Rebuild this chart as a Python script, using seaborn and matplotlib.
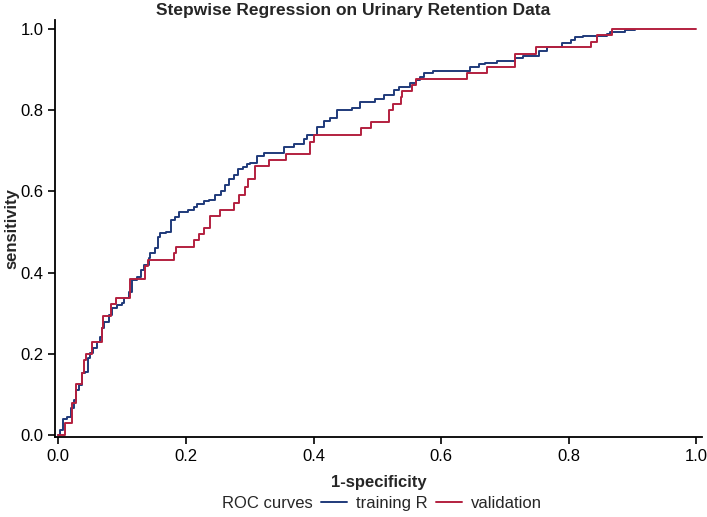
import numpy as np
import pandas as pd
import matplotlib
matplotlib.use("Agg")
import matplotlib.pyplot as plt
import seaborn as sns
from matplotlib.lines import Line2D

# -------------------------------
# ROC curve points (1-specificity, sensitivity)
# -------------------------------
train_fpr = [0.0, 0.002, 0.003, 0.007, 0.014, 0.020, 0.024, 0.028, 0.032, 0.037, 0.042,
             0.046, 0.050, 0.055, 0.061, 0.066, 0.068, 0.072, 0.079, 0.084, 0.092,
             0.100, 0.103, 0.110, 0.115, 0.124, 0.129, 0.135, 0.142, 0.144, 0.152,
             0.157, 0.160, 0.168, 0.176, 0.183, 0.189, 0.204, 0.212, 0.217, 0.228,
             0.236, 0.245, 0.255, 0.262, 0.268, 0.275, 0.282, 0.290, 0.296, 0.301,
             0.311, 0.322, 0.353, 0.369, 0.385, 0.390, 0.405, 0.416, 0.426, 0.437,
             0.460, 0.473, 0.497, 0.510, 0.526, 0.534, 0.552, 0.560, 0.567, 0.573,
             0.588, 0.646, 0.659, 0.669, 0.688, 0.716, 0.729, 0.753, 0.766, 0.789,
             0.803, 0.810, 0.823, 0.860, 0.865, 0.889, 0.904]
train_tpr = [0.0, 0.0, 0.012, 0.039, 0.045, 0.066, 0.086, 0.111, 0.123, 0.152, 0.156,
             0.189, 0.201, 0.214, 0.230, 0.242, 0.263, 0.279, 0.296, 0.312, 0.320,
             0.324, 0.337, 0.353, 0.382, 0.390, 0.406, 0.419, 0.435, 0.448, 0.460,
             0.488, 0.497, 0.501, 0.530, 0.538, 0.549, 0.554, 0.562, 0.569, 0.576,
             0.579, 0.590, 0.600, 0.615, 0.630, 0.640, 0.655, 0.660, 0.667, 0.671,
             0.686, 0.695, 0.710, 0.717, 0.728, 0.739, 0.759, 0.773, 0.780, 0.800,
             0.806, 0.821, 0.828, 0.837, 0.850, 0.858, 0.866, 0.874, 0.882, 0.892,
             0.897, 0.907, 0.913, 0.917, 0.922, 0.929, 0.933, 0.946, 0.956, 0.966,
             0.974, 0.981, 0.983, 0.989, 0.993, 0.998, 0.998]

valid_fpr = [0.0, 0.011, 0.021, 0.027, 0.028, 0.037, 0.040, 0.044, 0.053, 0.068, 0.070,
             0.082, 0.090, 0.112, 0.136, 0.141, 0.182, 0.185, 0.213, 0.221, 0.229,
             0.238, 0.253, 0.275, 0.283, 0.292, 0.298, 0.309, 0.330, 0.357, 0.394,
             0.400, 0.475, 0.490, 0.519, 0.525, 0.537, 0.539, 0.555, 0.561, 0.641,
             0.672, 0.716, 0.748, 0.835, 0.845, 0.868, 1.0]
valid_tpr = [0.0, 0.030, 0.078, 0.109, 0.125, 0.152, 0.185, 0.200, 0.230, 0.263, 0.293,
             0.323, 0.337, 0.383, 0.415, 0.431, 0.448, 0.464, 0.479, 0.494, 0.509,
             0.539, 0.554, 0.572, 0.590, 0.610, 0.631, 0.663, 0.677, 0.692, 0.722,
             0.739, 0.755, 0.770, 0.800, 0.815, 0.832, 0.847, 0.862, 0.876, 0.892,
             0.907, 0.938, 0.955, 0.969, 0.985, 1.0, 1.0]

df = pd.concat([
    pd.DataFrame({"fpr": train_fpr, "tpr": train_tpr, "curve": "training R"}),
    pd.DataFrame({"fpr": valid_fpr, "tpr": valid_tpr, "curve": "validation"}),
])
colors = {"training R": "#1f3a7a", "validation": "#b3203f"}

sns.set_style("ticks")
plt.rcParams["font.family"] = ["Liberation Sans", "DejaVu Sans"]

fig = plt.figure(figsize=(7.07, 5.17), dpi=100)
ax = fig.add_axes([0.078, 0.155, 0.915, 0.806])

sns.lineplot(data=df, x="fpr", y="tpr", hue="curve", palette=colors,
             estimator=None, sort=False, drawstyle="steps-post",
             linewidth=1.4, legend=False, ax=ax)

ax.set_xlim(-0.005, 1.009)
ax.set_ylim(-0.005, 1.022)
ticks = np.arange(0, 1.01, 0.2)
ax.set_xticks(ticks)
ax.set_yticks(ticks)
ax.set_xticklabels([f"{v:.1f}" for v in ticks])
ax.set_yticklabels([f"{v:.1f}" for v in ticks])
ax.tick_params(direction="out", length=5, width=1.2, labelsize=12, colors="black")
for s in ["left", "bottom"]:
    ax.spines[s].set_linewidth(1.3)
    ax.spines[s].set_color("black")
sns.despine(ax=ax)

ax.set_xlabel("1-specificity", fontsize=12, fontweight="bold", labelpad=8)
ax.set_ylabel("sensitivity", fontsize=12, fontweight="bold")
ax.yaxis.set_label_coords(-0.055, 0.5)
fig.suptitle("Stepwise Regression on Urinary Retention Data", x=0.5, y=0.995,
             fontsize=12.5, fontweight="bold", va="top")

handles = [Line2D([], [], linestyle="none"),
           Line2D([], [], color=colors["training R"], linewidth=1.4),
           Line2D([], [], color=colors["validation"], linewidth=1.4)]
labels = ["ROC curves", "training R", "validation"]
fig.legend(handles, labels, loc="center", bbox_to_anchor=(0.515, 0.027), ncol=3,
           frameon=False, fontsize=12, handlelength=1.6, handletextpad=0.5,
           columnspacing=0.5)

fig.savefig("out.png", dpi=100)
